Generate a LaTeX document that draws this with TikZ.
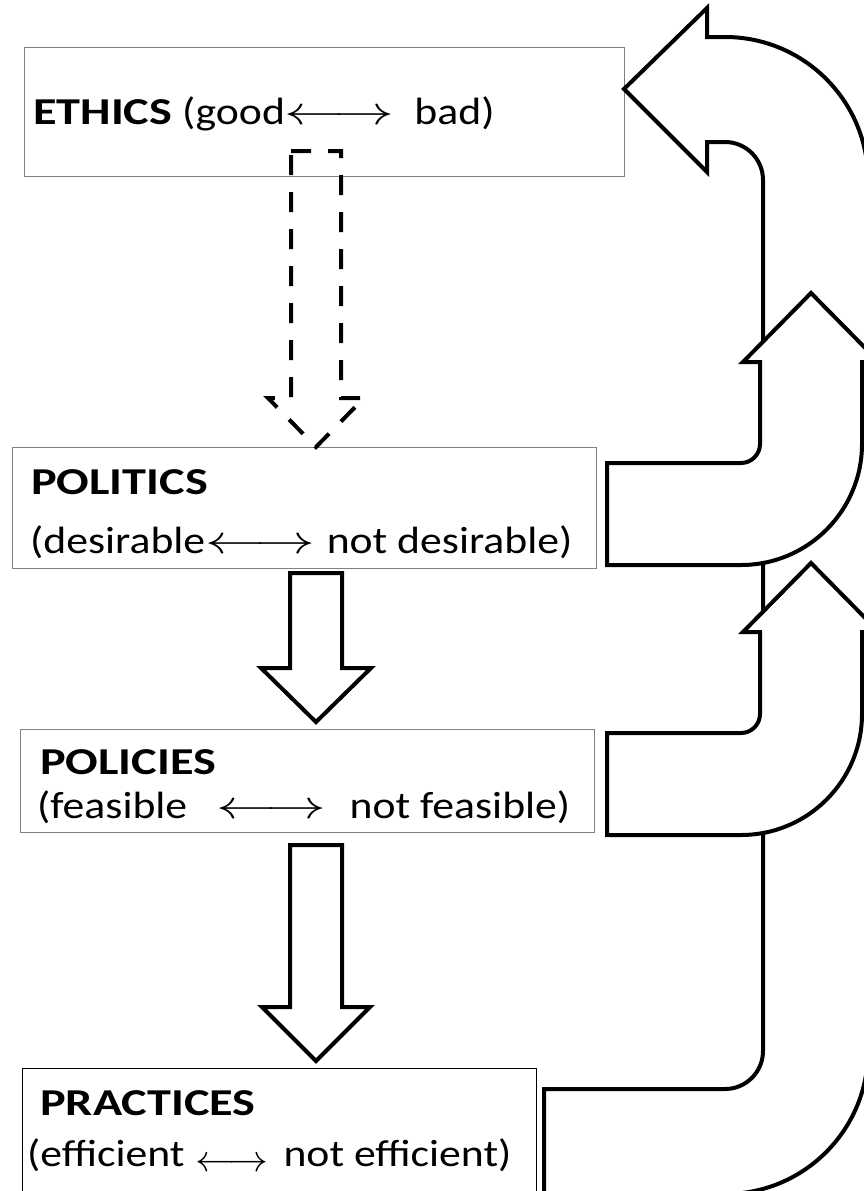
\documentclass[tikz,border=0pt]{standalone}
\usepackage{fontspec}
\setmainfont[FakeStretch=1.15, BoldFeatures={FakeStretch=1.27}]{Carlito}
\usepackage{graphicx}
\newcommand{\lra}[2]{\scalebox{#1}[#2]{$\longleftrightarrow$}}
\definecolor{boxgray}{RGB}{128,128,128}
\begin{document}
\begin{tikzpicture}[x=1pt,y=-1pt,
  box/.style={draw=boxgray, line width=1.4pt, fill=white, anchor=north west, inner sep=0pt},
  lbl/.style={anchor=base west, inner sep=0pt, font=\fontsize{38}{44}\selectfont},
  blockarrow/.style={draw=black, line width=4pt, fill=white, line join=miter},
  dasharrow/.style={draw=black, line width=4pt, dash pattern=on 20pt off 17pt},
  bigarrow/.style={draw=black, line width=4pt, fill=white, line join=miter}]
\useasboundingbox (0,0) rectangle (864,1191);
\clip (0,0) rectangle (864,1191);
\fill[white] (0,0) rectangle (864,1191);

% boxes
\node[box, minimum width=600pt, minimum height=129pt] (ethics) at (24,47) {};
\node[box, minimum width=584pt, minimum height=121pt] (politics) at (12,447) {};
\node[box, minimum width=574pt, minimum height=103pt] (policies) at (20,729) {};
\node[box, draw=black, minimum width=514pt, minimum height=140pt] (practices) at (22,1068) {};

% labels
\node[lbl] (tethics) at (33,124) {\textbf{ETHICS} (good\lra{2.4}{1.6}\hspace{20pt}bad)};
\node[lbl] (tpol1) at (31,494) {\textbf{POLITICS}};
\node[lbl] (tpol2) at (30,553) {(desirable\lra{2.4}{1.6}\hspace{12pt}not desirable)};
\node[lbl] (tpcy1) at (40,774) {\textbf{POLICIES}};
\node[lbl] (tpcy2) at (37,818) {(feasible\hspace{29pt}\lra{2.4}{1.6}\hspace{24pt}not feasible)};
\node[lbl] (tpra1) at (40,1115) {\textbf{PRACTICES}};
\node[lbl] (tpra2) at (27,1166) {(efficient\hspace{11pt}\raisebox{-5pt}{\lra{1.6}{1.5}}\hspace{15pt}not efficient)};

% dashed arrow ethics -> politics
\draw[dasharrow] (291,151) -- (341,151) -- (341,398) -- (364,398) -- (316,447) -- (268,398) -- (291,398) -- cycle;

% solid down arrows
\draw[blockarrow] (290,573) -- (342,573) -- (342,668) -- (371,668) -- (316,722) -- (261,668) -- (290,668) -- cycle;
\draw[blockarrow] (290,845) -- (342,845) -- (342,1007) -- (370,1007) -- (316,1061) -- (262,1007) -- (290,1007) -- cycle;

% big feedback arrow practices -> ethics
\draw[bigarrow] (544,1200) -- (544,1089) -- (725,1089)
  arc[start angle=90, end angle=0, radius=38] -- (763,180)
  arc[start angle=0, end angle=-90, radius=38] -- (707,142) -- (707,172) -- (624,89) -- (707,8) -- (707,37) -- (725,37)
  arc[start angle=-90, end angle=0, radius=143] -- (868,1051)
  arc[start angle=0, end angle=90, radius=143] -- (544,1194) -- cycle;

% politics -> up arrow
\draw[bigarrow] (607,463) -- (741,463)
  arc[start angle=90, end angle=0, radius=19] -- (760,362) -- (743,362) -- (811,293) -- (879,362) -- (862,362) -- (862,444)
  arc[start angle=0, end angle=90, radius=121] -- (607,565) -- cycle;

% policies -> up arrow
\draw[bigarrow] (607,733) -- (741,733)
  arc[start angle=90, end angle=0, radius=19] -- (760,632) -- (743,632) -- (811,563) -- (879,632) -- (862,632) -- (862,714)
  arc[start angle=0, end angle=90, radius=121] -- (607,835) -- cycle;
\end{tikzpicture}
\end{document}
